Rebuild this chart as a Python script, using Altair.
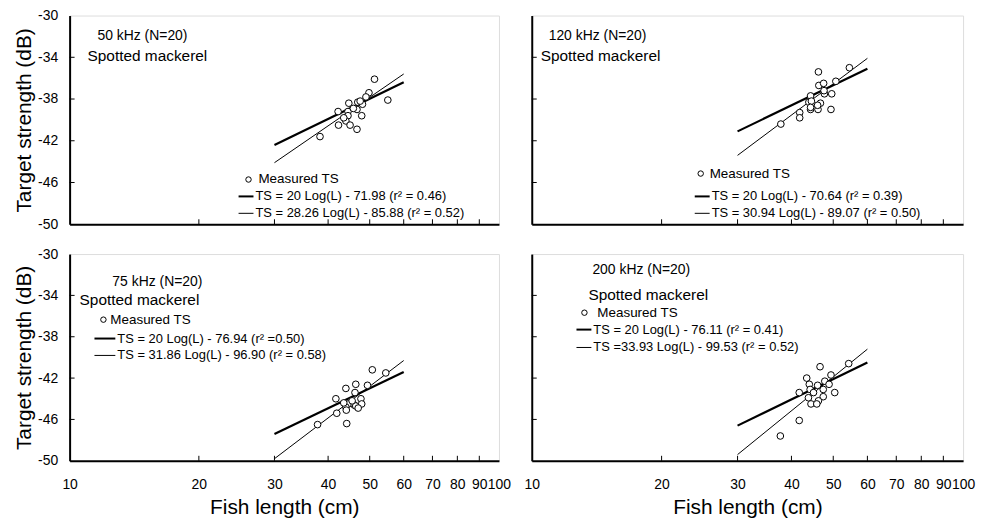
import altair as alt
import pandas as pd

FONT = "Liberation Sans"

# ---------------- data ----------------
x_tick_values = [10, 20, 30, 40, 50, 60, 70, 80, 90, 100]
y_tick_values = [-30, -34, -38, -42, -46, -50]
inner_x_ticks = [20, 30, 40, 50, 60, 70, 80, 90]
inner_y_ticks = [-34, -38, -42, -46]

freq_labels = ["50 kHz (N=20)", "120 kHz (N=20)", "75 kHz (N=20)", "200 kHz (N=20)"]
species_label = "Spotted mackerel"
points_label = "Measured TS"
eq_fixed = ["TS = 20 Log(L) - 71.98 (r² = 0.46)",
            "TS = 20 Log(L) - 70.64 (r² = 0.39)",
            "TS = 20 Log(L) - 76.94 (r² =0.50)",
            "TS = 20 Log(L) - 76.11 (r² = 0.41)"]
eq_free = ["TS = 28.26 Log(L) - 85.88 (r² = 0.52)",
           "TS = 30.94 Log(L) - 89.07 (r² = 0.50)",
           "TS = 31.86 Log(L) - 96.90 (r² = 0.58)",
           "TS =33.93 Log(L) - 99.53 (r² = 0.52)"]

len_50 = [51.3, 49.8, 55.1, 44.7, 46.9, 48.1, 42.2, 44.5, 46.7, 47.9,
          44.5, 44.0, 42.3, 45.0, 46.7, 38.3, 49.0, 45.8, 47.5, 43.5]
ts_50 = [-36.1, -37.4, -38.1, -38.4, -38.3, -38.5, -39.2, -39.2, -39.0, -39.6,
         -39.6, -40.1, -40.5, -40.5, -40.9, -41.6, -37.8, -38.9, -38.2, -39.8]

len_120 = [46.2, 54.5, 46.3, 47.5, 50.7, 44.3, 47.7, 49.6, 43.9, 46.7,
           41.8, 44.3, 46.1, 49.4, 41.8, 37.8, 44.5, 46.0, 47.6, 44.3]
ts_120 = [-35.4, -35.0, -36.7, -36.5, -36.3, -37.7, -37.5, -37.5, -38.3, -38.4,
          -39.3, -39.0, -39.0, -39.0, -39.8, -40.4, -38.2, -38.6, -37.2, -38.8]

len_75 = [50.7, 54.5, 49.4, 46.4, 44.0, 46.2, 41.7, 47.7, 44.6, 46.0,
          47.9, 44.0, 46.4, 44.1, 41.9, 44.2, 37.8, 45.5, 47.0, 43.5]
ts_75 = [-41.2, -41.5, -42.7, -42.6, -43.0, -43.4, -44.0, -44.0, -44.5, -44.6,
         -44.5, -44.8, -44.7, -45.1, -45.4, -46.4, -46.5, -44.2, -44.9, -44.4]

len_200 = [54.3, 46.6, 49.4, 43.4, 47.8, 44.0, 46.0, 48.9, 47.4, 41.7,
           44.2, 50.4, 47.4, 43.8, 46.2, 44.4, 45.8, 41.7, 37.7, 45.0]
ts_200 = [-40.6, -40.9, -41.7, -42.0, -42.3, -42.6, -42.7, -42.6, -43.1, -43.4,
          -43.1, -43.4, -43.8, -43.9, -44.2, -44.5, -44.5, -46.1, -47.6, -43.4]

line_len = [30, 60]
fixed_50 = [-42.4, -36.4]
free_50 = [-44.1, -35.6]
fixed_120 = [-41.1, -35.1]
free_120 = [-43.4, -34.1]
fixed_75 = [-47.4, -41.4]
free_75 = [-49.8, -40.3]
fixed_200 = [-46.6, -40.5]
free_200 = [-49.4, -39.2]

# ---------------- layout / style ----------------
xscale = alt.Scale(type="log", domain=[10, 100], nice=False)
yscale = alt.Scale(domain=[-50, -30], nice=False)


def make_panel(i, lens, tss, fixed, free, W, H, show_ylab, show_xlab, pos):
    xaxis = alt.Axis(values=x_tick_values, format="d", ticks=False, grid=False,
                     labels=show_xlab, labelPadding=17, labelFontSize=14,
                     labelOverlap=False, labelFlush=False, labelBound=False,
                     labelColor="black", labelFont=FONT,
                     title="Fish length (cm)" if show_xlab else None,
                     titleFontSize=21, titleFontWeight="normal", titleFont=FONT,
                     titleColor="black", titlePadding=5,
                     domainColor="black", domainWidth=2)
    yaxis = alt.Axis(values=y_tick_values, ticks=False, grid=False,
                     labels=show_ylab, labelPadding=12, labelFontSize=14,
                     labelOverlap=False, labelFlush=False,
                     labelExpr="'-' + abs(datum.value)",
                     labelColor="black", labelFont=FONT,
                     title="Target strength (dB)" if show_ylab else None,
                     titleFontSize=21, titleFontWeight="normal", titleFont=FONT,
                     titleColor="black", titlePadding=3,
                     domainColor="black", domainWidth=2)

    def X(f):
        return alt.X(f + ":Q", scale=xscale, axis=xaxis)

    def Y(f):
        return alt.Y(f + ":Q", scale=yscale, axis=yaxis)

    pts = pd.DataFrame({"L": lens, "TS": tss})
    thick = pd.DataFrame({"L": line_len, "TS": fixed})
    thin = pd.DataFrame({"L": line_len, "TS": free})

    layers = []
    layers.append(alt.Chart(pd.DataFrame({"v": inner_x_ticks})).mark_rule(
        color="black", strokeWidth=1).encode(
        x=X("v"), y=alt.value(H), y2=alt.value(H - 5)))
    layers.append(alt.Chart(pd.DataFrame({"v": inner_y_ticks})).mark_rule(
        color="black", strokeWidth=1).encode(
        y=Y("v"), x=alt.value(0), x2=alt.value(5)))
    layers.append(alt.Chart(thin).mark_line(color="black", strokeWidth=1).encode(
        x=X("L"), y=Y("TS")))
    layers.append(alt.Chart(thick).mark_line(color="black", strokeWidth=2.2).encode(
        x=X("L"), y=Y("TS")))
    layers.append(alt.Chart(pts).mark_point(
        shape="circle", filled=True, fill="white", stroke="black",
        strokeWidth=1, size=45, opacity=1, fillOpacity=1).encode(
        x=X("L"), y=Y("TS")))

    p = pos
    txt = dict(align="left", baseline="middle", font=FONT, color="black")
    layers.append(alt.Chart(pd.DataFrame({"t": [freq_labels[i]]})).mark_text(
        fontSize=14, **txt).encode(
        x=alt.value(p["title"][0]), y=alt.value(p["title"][1]), text="t:N"))
    layers.append(alt.Chart(pd.DataFrame({"t": [species_label]})).mark_text(
        fontSize=15.5, **txt).encode(
        x=alt.value(p["species"][0]), y=alt.value(p["species"][1]), text="t:N"))
    # legend
    layers.append(alt.Chart(pd.DataFrame({"t": [points_label]})).mark_point(
        shape="circle", filled=True, fill="white", stroke="black",
        strokeWidth=1, size=30, opacity=1).encode(
        x=alt.value(p["circle"][0]), y=alt.value(p["rows"][0])))
    layers.append(alt.Chart(pd.DataFrame({"t": [points_label]})).mark_text(
        fontSize=13.5, **txt).encode(
        x=alt.value(p["ptext"]), y=alt.value(p["rows"][0]), text="t:N"))
    layers.append(alt.Chart(pd.DataFrame({"t": [eq_fixed[i]]})).mark_rule(
        color="black", strokeWidth=2).encode(
        x=alt.value(p["line"][0]), x2=alt.value(p["line"][1]), y=alt.value(p["rows"][1])))
    layers.append(alt.Chart(pd.DataFrame({"t": [eq_free[i]]})).mark_rule(
        color="black", strokeWidth=1).encode(
        x=alt.value(p["line"][0]), x2=alt.value(p["line"][1]), y=alt.value(p["rows"][2])))
    layers.append(alt.Chart(pd.DataFrame({"t": [eq_fixed[i]]})).mark_text(
        fontSize=13, **txt).encode(
        x=alt.value(p["etext"]), y=alt.value(p["rows"][1]), text="t:N"))
    layers.append(alt.Chart(pd.DataFrame({"t": [eq_free[i]]})).mark_text(
        fontSize=13, **txt).encode(
        x=alt.value(p["etext"]), y=alt.value(p["rows"][2]), text="t:N"))

    return alt.layer(*layers).properties(width=W, height=H)


pos50 = {"title": (28, 21), "species": (18, 41), "circle": (180,), "ptext": 190,
         "rows": (165, 182, 199), "line": (170, 185), "etext": 187}
pos120 = {"title": (17, 21), "species": (9, 41), "circle": (170,), "ptext": 179,
          "rows": (159, 182, 199), "line": (164, 179), "etext": 181}
pos75 = {"title": (43, 28), "species": (10, 46), "circle": (34,), "ptext": 41,
         "rows": (66, 85, 102), "line": (25, 46), "etext": 48}
pos200 = {"title": (61, 16), "species": (57, 41), "circle": (53,), "ptext": 66,
          "rows": (59, 76, 94), "line": (45, 60), "etext": 62}

p1 = make_panel(0, len_50, ts_50, fixed_50, free_50, 432, 210, True, False, pos50)
p2 = make_panel(1, len_120, ts_120, fixed_120, free_120, 434, 210, False, False, pos120)
p3 = make_panel(2, len_75, ts_75, fixed_75, free_75, 432, 208, True, True, pos75)
p4 = make_panel(3, len_200, ts_200, fixed_200, free_200, 434, 208, False, True, pos200)

row1 = alt.hconcat(p1, p2, spacing=33, bounds="flush")
row2 = alt.hconcat(p3, p4, spacing=33, bounds="flush")
chart = alt.vconcat(row1, row2, spacing=14).properties(
    padding={"left": 5, "top": -2, "right": 0, "bottom": 0},
    background="white",
).configure_view(stroke="black", strokeWidth=1.2).configure(font=FONT)

chart.save("out.html", embed_options={"renderer": "svg", "actions": False})
